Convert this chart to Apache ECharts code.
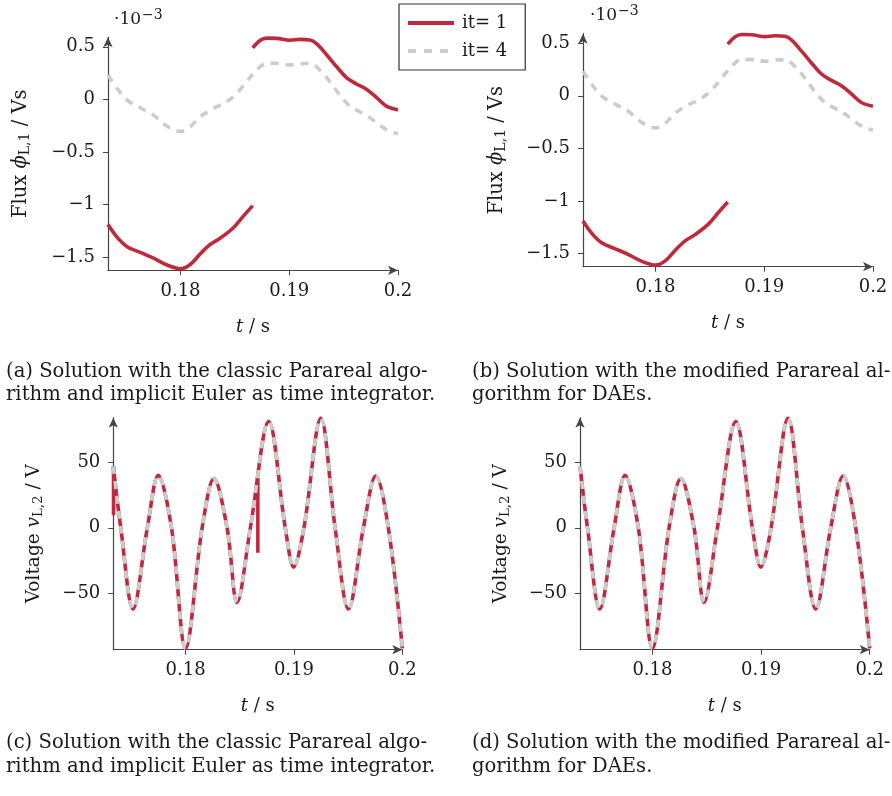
<!DOCTYPE html>
<html>
<head>
<meta charset="utf-8">
<script src="https://cdn.jsdelivr.net/npm/echarts@6/dist/echarts.min.js"></script>
<style>html,body{margin:0;padding:0;background:#fff}#c{width:892px;height:796px}</style>
</head>
<body>
<div id="c"></div>
<script>
// ---- data (flux in units of 1e-3 Vs, voltage in V, time in s) ----
const tMin = 0.17333, tMax = 0.2;
const timeTicks = [0.18, 0.19, 0.2];
const fluxTicks = [-1.5, -1, -0.5, 0, 0.5];
const voltTicks = [-50, 0, 50];
const seriesNames = ['it= 1', 'it= 4'];

const fluxIt1Window1 = [
  [0.17333,-1.19],[0.17416,-1.31],[0.17508,-1.40],[0.17630,-1.455],[0.17752,-1.51],
  [0.17875,-1.575],[0.18000,-1.61],[0.18089,-1.57],[0.18180,-1.47],[0.18272,-1.38],
  [0.18364,-1.32],[0.18486,-1.22],[0.18578,-1.11],[0.18664,-1.01]
];
const fluxIt1Window2 = [
  [0.18664,0.49],[0.18731,0.56],[0.18792,0.582],[0.18884,0.58],[0.19006,0.562],
  [0.19098,0.57],[0.19190,0.565],[0.19251,0.53],[0.19343,0.424],[0.19434,0.312],
  [0.19526,0.207],[0.19618,0.146],[0.19709,0.096],[0.19801,0.019],[0.19893,-0.064],[0.20000,-0.10]
];
const fluxIt4 = [
  [0.17333,0.232],[0.17416,0.105],[0.17508,-0.006],[0.17630,-0.08],[0.17752,-0.15],
  [0.17875,-0.255],[0.18000,-0.305],[0.18089,-0.26],[0.18180,-0.166],[0.18303,-0.086],
  [0.18425,-0.022],[0.18517,0.057],[0.18609,0.169],[0.18700,0.28],[0.18792,0.345],
  [0.18884,0.344],[0.19006,0.328],[0.19098,0.338],[0.19190,0.344],[0.19281,0.28],
  [0.19373,0.169],[0.19465,0.041],[0.19557,-0.064],[0.19648,-0.118],[0.19740,-0.172],
  [0.19832,-0.245],[0.19924,-0.305],[0.20000,-0.325]
];
const voltageIt4 = [
  [0.17333,47],[0.17402,0],[0.17515,-62],[0.17647,0],[0.17748,40],[0.17870,0],
  [0.18000,-92],[0.18153,0],[0.18261,37.5],[0.18383,0],[0.18475,-57],[0.18598,0],
  [0.18767,81],[0.18920,0],[0.18997,-30],[0.19092,0],[0.19248,83.5],[0.19380,0],
  [0.19503,-62],[0.19641,0],[0.19755,39.5],[0.19871,0],[0.20000,-92]
];
const voltageIt1 = [
  [0.17333,47],[0.17402,0],[0.17515,-62],[0.17647,0],[0.17748,40],[0.17870,0],
  [0.18000,-92],[0.18153,0],[0.18261,37.5],[0.18383,0],[0.18475,-57],[0.18598,0],
  [0.18767,81],[0.18920,0],[0.18997,-30],[0.19092,0],[0.19248,83.5],[0.19380,0],
  [0.19503,-62],[0.19641,0],[0.19755,39.5],[0.19871,0],[0.20000,-92]
];
// jumps of the classic Parareal (implicit Euler) solution at window starts
const voltageIt1JumpStart = [[0.17335,9.5],[0.17335,47]];
const voltageIt1JumpMid = [[0.18667,38],[0.18667,-19]];

const fluxMin = -1.625, fluxMax = 0.59;
const voltMin = -93, voltMax = 84;

// ---- styling ----
const RED = '#c0283c', GRAY = '#cccccc', AX = '#444', TXT = '#1a1a1a';
const FONT = 'DejaVu Serif';
const fmt = v => (v < 0 ? '\u2212' + Math.abs(v) : String(v));

function nameRich(sz) {
  return {
    n: {fontFamily: FONT, fontSize: sz, color: TXT},
    i: {fontFamily: FONT, fontSize: sz, fontStyle: 'italic', color: TXT},
    s: {fontFamily: FONT, fontSize: sz * 0.72, color: TXT, padding: [9, 0, 0, 0]}
  };
}

function xAx(grid) {
  return {
    type: 'value', gridIndex: grid, min: tMin, max: tMax,
    name: '{i|t}{n| / s}', nameLocation: 'middle', nameGap: 48,
    nameTextStyle: {rich: nameRich(18)},
    splitLine: {show: false},
    axisLine: {onZero: false, lineStyle: {color: AX, width: 1.2}, symbol: ['none', 'arrow'], symbolSize: [7, 10]},
    axisTick: {customValues: timeTicks, length: 5, lineStyle: {color: AX}},
    axisLabel: {customValues: timeTicks, formatter: fmt, fontFamily: FONT, fontSize: 18, color: TXT, margin: 12}
  };
}
function yAx(grid, min, max, ticks, name, gap, sz) {
  return {
    type: 'value', gridIndex: grid, min: min, max: max,
    name: name, nameLocation: 'middle', nameGap: gap, nameRotate: 90,
    nameTextStyle: {rich: nameRich(sz)},
    splitLine: {show: false},
    axisLine: {onZero: false, lineStyle: {color: AX, width: 1.2}, symbol: ['none', 'arrow'], symbolSize: [7, 10]},
    axisTick: {customValues: ticks, length: 5, lineStyle: {color: AX}},
    axisLabel: {customValues: ticks, formatter: fmt, fontFamily: FONT, fontSize: 18, color: TXT, margin: 13}
  };
}
function line(name, grid, data, color, dashed, smooth) {
  return {
    type: 'line', name: name, xAxisIndex: grid, yAxisIndex: grid, data: data,
    smooth: smooth ? 0.35 : false, symbol: 'none', showSymbol: false, clip: false,
    lineStyle: {color: color, width: 3.6, type: dashed ? [8, 7] : 'solid', cap: 'butt'},
    itemStyle: {color: color}, z: dashed ? 3 : 2, animation: false
  };
}

const fluxName = '{n|Flux }{i|\u03D5}{s|L,1}{n| / Vs}';
const voltName = '{n|Voltage }{i|v}{s|L,2}{n| / V}';

const capStyle = {fontFamily: FONT, fontSize: 19.6, fill: TXT};
function cap(x, y, t) { return {type: 'text', left: x, top: y - 12, style: Object.assign({text: t}, capStyle)}; }
function expo(x, y) {
  return {type: 'text', left: x, top: y, style: {
    text: '{a|\u00B710}{b|\u22123}',
    rich: {a: {fontFamily: FONT, fontSize: 17, fill: TXT}, b: {fontFamily: FONT, fontSize: 14, fill: TXT, padding: [0, 0, 10, 1]}}
  }};
}

const option = {
  backgroundColor: '#fff',
  animation: false,
  grid: [
    {left: 108, top: 37.3, width: 290, height: 233},
    {left: 583, top: 33.7, width: 290, height: 233},
    {left: 113.3, top: 417.7, width: 289, height: 232},
    {left: 580, top: 417.7, width: 289.7, height: 232}
  ],
  xAxis: [xAx(0), xAx(1), xAx(2), xAx(3)],
  yAxis: [
    yAx(0, fluxMin, fluxMax, fluxTicks, fluxName, 76, 19.5),
    yAx(1, fluxMin, fluxMax, fluxTicks, fluxName, 75, 19.5),
    yAx(2, voltMin, voltMax, voltTicks, voltName, 68, 18.5),
    yAx(3, voltMin, voltMax, voltTicks, voltName, 68, 18.5)
  ],
  legend: {
    data: [
      {name: seriesNames[0], icon: 'path://M0,0H46V4H0Z', itemStyle: {color: RED}},
      {name: seriesNames[1], icon: 'path://M0,0H8V4H0Z M16,0H24V4H16Z M32,0H40V4H32Z M46,0H46.01V4H46Z', itemStyle: {color: GRAY}}
    ],
    orient: 'vertical', left: 399, top: 4,
    borderColor: '#333', borderWidth: 1.2, padding: [10, 18, 10, 9],
    itemWidth: 46, itemHeight: 4, itemGap: 10,
    textStyle: {fontFamily: FONT, fontSize: 18, color: TXT, padding: [0, 0, 0, 3]}
  },
  graphic: [
    expo(114, 8), expo(590, 4),
    cap(6, 374, '(a) Solution with the classic Parareal algo-'),
    cap(6, 397, 'rithm and implicit Euler as time integrator.'),
    cap(472, 374, '(b) Solution with the modified Parareal al-'),
    cap(472, 397, 'gorithm for DAEs.'),
    cap(6, 745, '(c) Solution with the classic Parareal algo-'),
    cap(6, 769, 'rithm and implicit Euler as time integrator.'),
    cap(472, 745, '(d) Solution with the modified Parareal al-'),
    cap(472, 769, 'gorithm for DAEs.')
  ],
  series: [
    line(seriesNames[0], 0, fluxIt1Window1, RED, false, true),
    line(seriesNames[0], 0, fluxIt1Window2, RED, false, true),
    line(seriesNames[1], 0, fluxIt4, GRAY, true, true),
    line(seriesNames[0], 1, fluxIt1Window1, RED, false, true),
    line(seriesNames[0], 1, fluxIt1Window2, RED, false, true),
    line(seriesNames[1], 1, fluxIt4, GRAY, true, true),
    line(seriesNames[0], 2, voltageIt1, RED, false, true),
    line(seriesNames[0], 2, voltageIt1JumpStart, RED, false, false),
    line(seriesNames[0], 2, voltageIt1JumpMid, RED, false, false),
    line(seriesNames[1], 2, voltageIt4, GRAY, true, true),
    line(seriesNames[0], 3, voltageIt1, RED, false, true),
    line(seriesNames[1], 3, voltageIt4, GRAY, true, true)
  ]
};
const chart = echarts.init(document.getElementById('c'), null, {renderer: 'canvas'});
chart.setOption(option);
</script>
</body>
</html>
